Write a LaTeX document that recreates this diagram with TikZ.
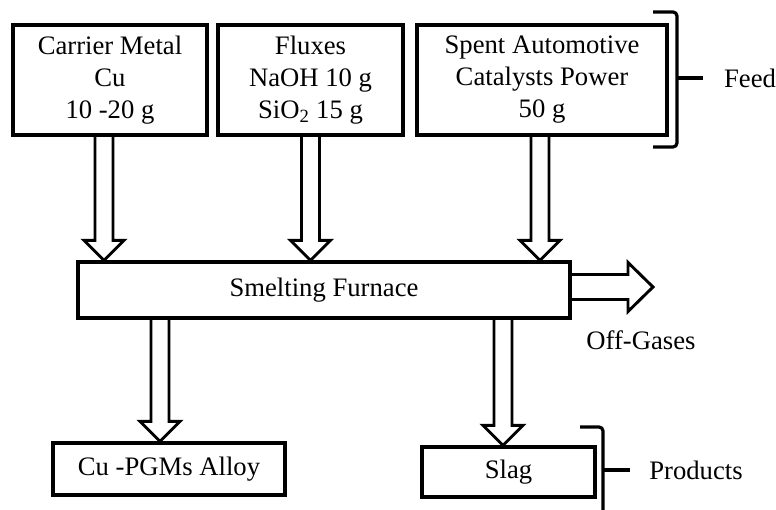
\documentclass[tikz,border=0pt]{standalone}
\usepackage{fontspec}
\setmainfont{Liberation Serif}
\usetikzlibrary{calc}
\newcommand\hollowdown[3]{%
  \path ($(#1)+(#2,0)$) coordinate (hs);
  \path (hs |- #3) coordinate (ht);
  \draw[hollow] ($(hs)+(-9,0)$) -- ($(ht)+(-9,-20)$) -- ($(ht)+(-20,-20)$) -- (ht)
    -- ($(ht)+(20,-20)$) -- ($(ht)+(9,-20)$) -- ($(hs)+(9,0)$);}
\begin{document}
\begin{tikzpicture}[x=0.75pt,y=-0.75pt,
  font=\fontsize{20}{24}\selectfont,
  box/.style={draw,line width=2.4pt,fill=white,align=center,inner sep=0pt},
  hollow/.style={draw,line width=2.2pt,line join=miter},
  brace/.style={draw,line width=2.4pt,rounded corners=3pt},
  lbl/.style={inner sep=0pt}]
\useasboundingbox (0,0) rectangle (776,510);
% feed boxes
\node[box,minimum width=145.5pt,minimum height=82.5pt] (b1) at (110,80) {Carrier Metal\\Cu\\10 -20 g};
\node[box,minimum width=138.75pt,minimum height=82.5pt] (b2) at (310.5,80) {Fluxes\\NaOH 10 g\\SiO\textsubscript{2} 15 g};
\node[box,minimum width=187.5pt,minimum height=82.5pt] (b3) at (542,80) {Spent Automotive\\Catalysts Power\\50 g};
% furnace
\node[box,minimum width=369pt,minimum height=42pt] (furn) at (324,290) {Smelting Furnace};
% products
\node[box,minimum width=174pt,minimum height=39pt] (alloy) at (169,469) {Cu -PGMs Alloy};
\node[box,minimum width=129.75pt,minimum height=37.5pt] (slag) at (508.5,472) {Slag};
% labels
\node[lbl] (feed) at (750,78) {Feed};
\node[lbl] (offg) at (641,340) {Off-Gases};
\node[lbl] (prod) at (696,470) {Products};
% arrows
\hollowdown{b1.south}{-6}{furn.north}
\hollowdown{b2.south}{0}{furn.north}
\hollowdown{b3.south}{-2}{furn.north}
\hollowdown{furn.south}{-164}{alloy.north}
\hollowdown{furn.south}{179}{slag.north}
% off-gas arrow
\coordinate (ogs) at ($(furn.east)+(0,-3)$);
\coordinate (ogt) at (653,287);
\draw[hollow] ($(ogs)+(0,-12.5)$) -- ($(ogt |- ogs)+(-25,-12.5)$) -- ($(ogt)+(-25,-24.5)$) -- (ogt)
  -- ($(ogt)+(-25,24.5)$) -- ($(ogt |- ogs)+(-25,12.5)$) -- ($(ogs)+(0,12.5)$);
% feed bracket
\coordinate (ft) at (677,78);
\draw[brace] (653,12) -- (677,12) -- (677,147) -- (653,147);
\draw[line width=2.4pt] (ft) -- (feed.west -| 703,0);
% products bracket
\coordinate (pt) at (603,470);
\draw[brace] (580,427) -- (603,427) -- (603,515);
\draw[line width=2.4pt] (pt) -- (630,470);
\end{tikzpicture}
\end{document}
